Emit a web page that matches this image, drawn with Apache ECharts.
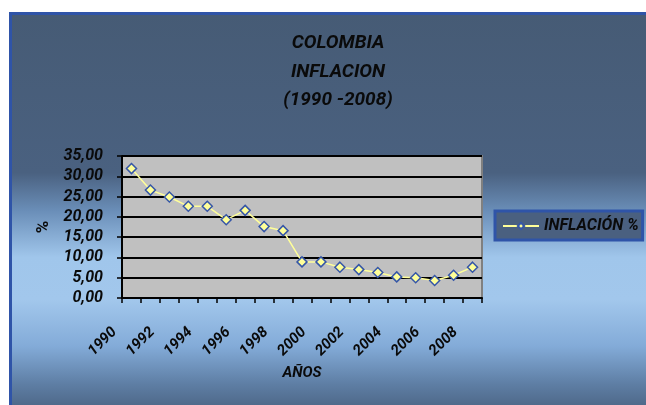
<!DOCTYPE html>
<html>
<head>
<meta charset="utf-8">
<script src="https://cdn.jsdelivr.net/npm/echarts@6/dist/echarts.min.js"></script>
<style>
html,body{margin:0;padding:0;background:#fff;}
#c{width:646px;height:405px;}
</style>
</head>
<body>
<div id="c"></div>
<script>
var years = ['1990','1991','1992','1993','1994','1995','1996','1997','1998','1999','2000','2001','2002','2003','2004','2005','2006','2007','2008'];
var inflacion = [31.9, 26.6, 24.9, 22.6, 22.6, 19.3, 21.6, 17.6, 16.6, 8.9, 8.9, 7.6, 7.0, 6.3, 5.2, 5.0, 4.3, 5.6, 7.6];
var titleLines = ['COLOMBIA', 'INFLACION', '(1990 -2008)'];
var seriesName = 'INFLACIÓN %';
var yName = '%';
var xName = 'AÑOS';

var FONT = 'Roboto';
var chart = echarts.init(document.getElementById('c'), null, {renderer: 'canvas'});
chart.setOption({
  animation: false,
  backgroundColor: '#ffffff',
  graphic: [{
    type: 'rect',
    z: -10,
    shape: {x: 10.5, y: 13.5, width: 660, height: 420},
    style: {
      fill: new echarts.graphic.LinearGradient(0, 0, 0, 1, [
        {offset: 0, color: '#465B75'},
        {offset: 0.38, color: '#4A6180'},
        {offset: 0.47, color: '#6A8EB8'},
        {offset: 0.58, color: '#A0C6EB'},
        {offset: 0.68, color: '#A2C7EC'},
        {offset: 0.79, color: '#83ABD8'},
        {offset: 0.88, color: '#5E7EA4'},
        {offset: 0.94, color: '#4C6585'},
        {offset: 1, color: '#4A6080'}
      ]),
      stroke: '#2F54A8',
      lineWidth: 3
    }
  }],
  title: {
    text: titleLines.join('\n'),
    left: 333,
    textAlign: 'center',
    top: 24,
    textStyle: {
      fontFamily: FONT, fontWeight: 'bold', fontStyle: 'italic',
      fontSize: 19, lineHeight: 28.5, color: '#0a0a0a'
    }
  },
  legend: {
    left: 495,
    top: 211,
    data: [seriesName],
    backgroundColor: '#4A6080',
    borderColor: '#2F54A8',
    borderWidth: 3,
    padding: [7, 4, 6, 7],
    itemWidth: 36,
    itemHeight: 8,
    itemGap: 0,
    textStyle: {
      fontFamily: FONT, fontWeight: 'bold', fontStyle: 'italic',
      fontSize: 16, color: '#0a0a0a'
    }
  },
  grid: {
    left: 122, top: 156, width: 360, height: 142,
    show: true,
    backgroundColor: '#C0C0C0',
    borderColor: '#808080',
    borderWidth: 2
  },
  xAxis: {
    type: 'category',
    data: years,
    boundaryGap: true,
    name: xName,
    nameLocation: 'middle',
    nameGap: 68,
    nameTextStyle: {fontFamily: FONT, fontWeight: 'bold', fontStyle: 'italic', fontSize: 15, color: '#0a0a0a'},
    axisLine: {show: true, lineStyle: {color: '#000', width: 2}},
    axisTick: {show: true, interval: 0, length: 5, lineStyle: {color: '#000', width: 1.5}},
    axisLabel: {
      interval: 1,
      rotate: 45,
      margin: 15,
      padding: [0, 24, 0, 0],
      fontFamily: FONT, fontWeight: 'bold', fontStyle: 'italic', fontSize: 15, color: '#0a0a0a'
    },
    splitLine: {show: false}
  },
  yAxis: {
    type: 'value',
    min: 0, max: 35, interval: 5,
    name: yName,
    nameLocation: 'middle',
    nameRotate: 90,
    nameGap: 67,
    nameTextStyle: {fontFamily: FONT, fontWeight: 'bold', fontSize: 17, color: '#0a0a0a'},
    axisLine: {show: true, lineStyle: {color: '#000', width: 2}},
    axisTick: {show: true, length: 5, lineStyle: {color: '#000', width: 1.5}},
    axisLabel: {
      margin: 19,
      formatter: function (v) { return v.toFixed(2).replace('.', ','); },
      fontFamily: FONT, fontWeight: 'bold', fontStyle: 'italic', fontSize: 16, color: '#0a0a0a'
    },
    splitLine: {show: true, lineStyle: {color: '#000', width: 2}}
  },
  series: [{
    name: seriesName,
    type: 'line',
    data: inflacion,
    symbol: 'diamond',
    symbolSize: 10,
    lineStyle: {color: '#FFFF99', width: 1.5},
    itemStyle: {color: '#FFFF99', borderColor: '#3556A8', borderWidth: 1.5}
  }]
});
</script>
</body>
</html>
